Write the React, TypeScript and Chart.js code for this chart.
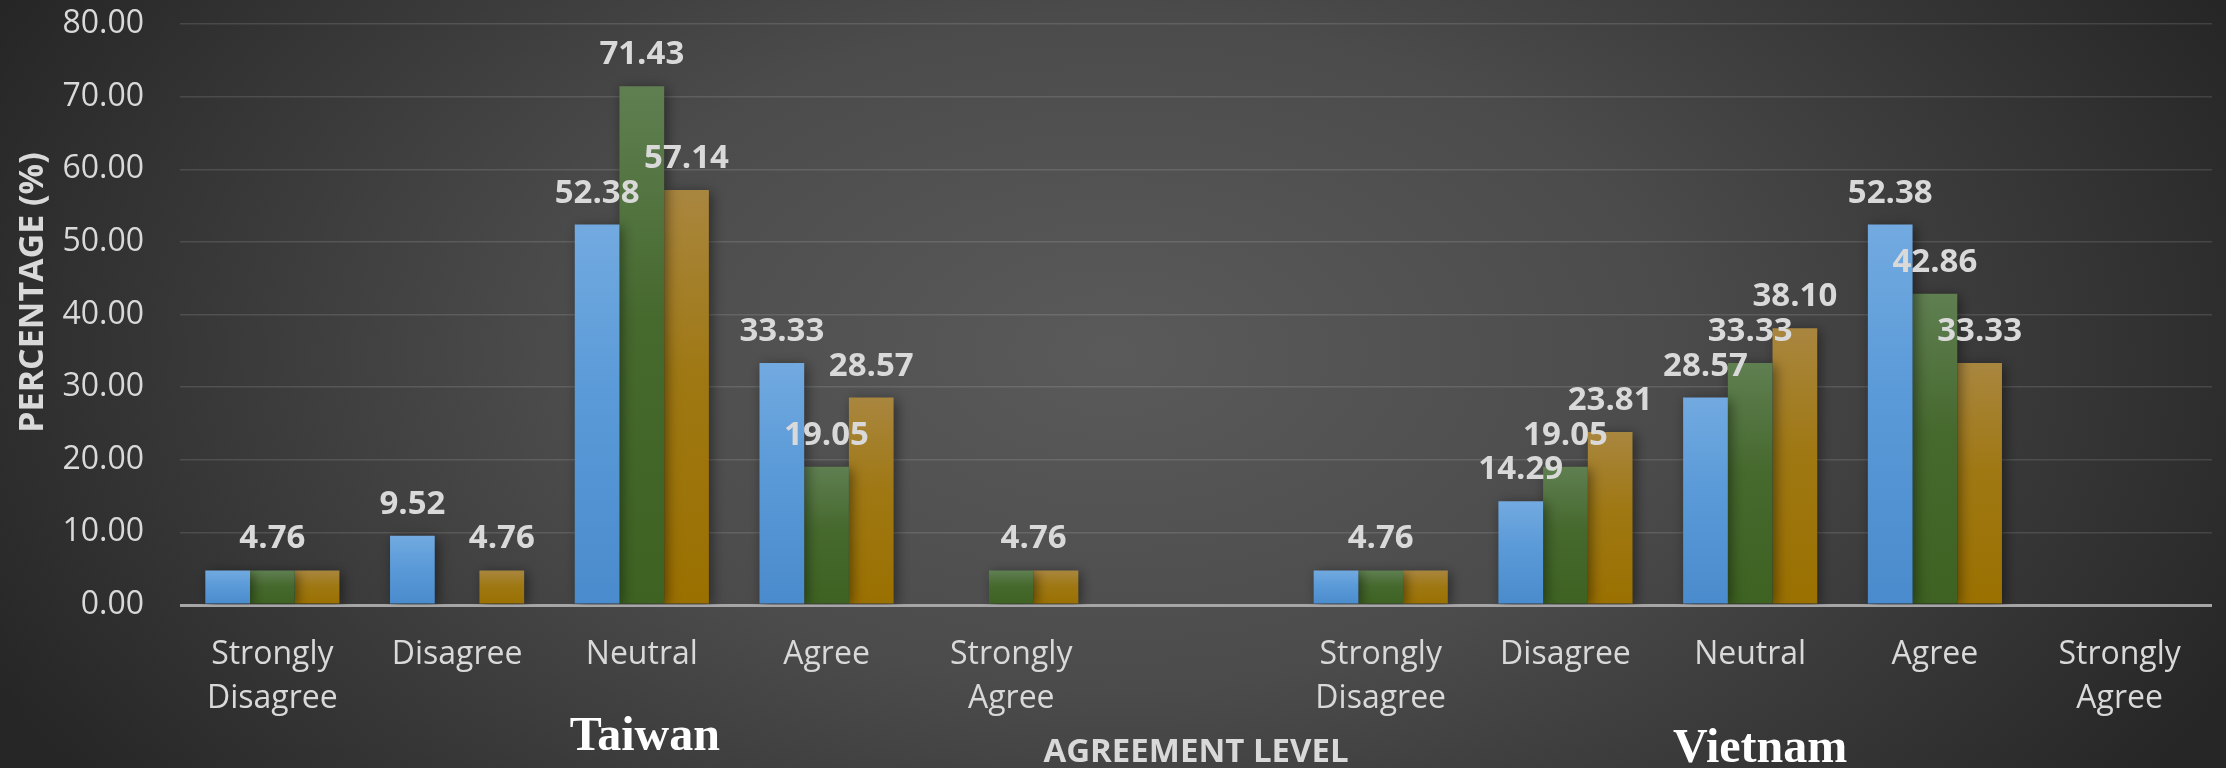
import React, { useEffect, useRef } from 'react';
import { Chart, registerables } from 'chart.js';

Chart.register(...registerables);

// ---------- data ----------
const categories: (string | string[])[] = [
  ['Strongly', 'Disagree'],
  'Disagree',
  'Neutral',
  'Agree',
  ['Strongly', 'Agree'],
  '',
  ['Strongly', 'Disagree'],
  'Disagree',
  'Neutral',
  'Agree',
  ['Strongly', 'Agree'],
];

const seriesNames = ['Series 1', 'Series 2', 'Series 3'];
const blueValues = [4.76, 9.52, 52.38, 33.33, 0, null, 4.76, 14.29, 28.57, 52.38, 0];
const greenValues = [4.76, 0, 71.43, 19.05, 4.76, null, 4.76, 19.05, 33.33, 42.86, 0];
const goldValues = [4.76, 4.76, 57.14, 28.57, 4.76, null, 4.76, 23.81, 38.1, 33.33, 0];

const yMin = 0;
const yMax = 80;
const yStep = 10;

const groupLabels = ['Taiwan', 'Vietnam'];
const groupCenterCategory = [2, 8];

const yAxisTitle = 'PERCENTAGE (%)';
const xAxisTitle = 'AGREEMENT LEVEL';

// ---------- styles ----------
const FONT = '"Open Sans", "Noto Sans", sans-serif';
const TEXT_COLOR = '#d9d9d9';
const SERIES_GRADIENTS = [
  ['#72aae0', '#5a9ad8', '#4a8bcd'],
  ['#5f7f51', '#46692e', '#3d6221'],
  ['#a9863f', '#9f7813', '#9a7000'],
];
const GROUP_LABEL_STYLE = [
  { dx: 3, dyFromBottom: 18 },
  { dx: 10, dyFromBottom: 6 },
];

function barFill(seriesIndex: number) {
  return (ctx: any) => {
    const stops = SERIES_GRADIENTS[seriesIndex];
    const chart = ctx.chart;
    const y = chart.scales && chart.scales.y;
    const v = ctx.raw;
    if (!y || ctx.type !== 'data' || v == null || v <= 0) return stops[2];
    const top = y.getPixelForValue(v);
    const bottom = y.getPixelForValue(0);
    if (!isFinite(top) || !isFinite(bottom) || bottom - top < 1) return stops[2];
    const g = chart.ctx.createLinearGradient(0, top, 0, bottom);
    g.addColorStop(0, stops[0]);
    g.addColorStop(0.45, stops[1]);
    g.addColorStop(1, stops[2]);
    return g;
  };
}

const backgroundPlugin = {
  id: 'radialBackground',
  beforeDraw(chart: any) {
    const { ctx, width, height } = chart;
    ctx.save();
    ctx.fillStyle = '#262626';
    ctx.fillRect(0, 0, width, height);
    ctx.translate(width * 0.5, height * 0.46);
    ctx.scale(1, 0.6);
    const r = width * 0.56;
    const g = ctx.createRadialGradient(0, 0, 0, 0, 0, r);
    g.addColorStop(0, '#5a5a5a');
    g.addColorStop(0.45, '#4b4b4b');
    g.addColorStop(1, '#262626');
    ctx.fillStyle = g;
    ctx.fillRect(-4000, -4000, 8000, 8000);
    ctx.restore();
  },
};

const barDecorPlugin = {
  id: 'barDecor',
  beforeDatasetsDraw(chart: any) {
    const ctx = chart.ctx;
    ctx.save();
    ctx.shadowColor = 'rgba(0,0,0,0.45)';
    ctx.shadowBlur = 12;
    ctx.shadowOffsetX = 3;
    ctx.shadowOffsetY = 2;
  },
  afterDatasetsDraw(chart: any) {
    const ctx = chart.ctx;
    ctx.restore();
    ctx.save();
    ctx.font = `bold 33px ${FONT}`;
    ctx.fillStyle = TEXT_COLOR;
    ctx.textAlign = 'center';
    ctx.textBaseline = 'alphabetic';
    const ds = chart.data.datasets;
    const metas = ds.map((_: any, i: number) => chart.getDatasetMeta(i));
    for (let c = 0; c < categories.length; c++) {
      let d = 0;
      while (d < ds.length) {
        const v = ds[d].data[c];
        if (v == null || v <= 0) {
          d++;
          continue;
        }
        let e = d;
        while (e + 1 < ds.length && ds[e + 1].data[c] === v) e++;
        const x = (metas[d].data[c].x + metas[e].data[c].x) / 2;
        const y = metas[d].data[c].y;
        ctx.fillText(Number(v).toFixed(2), x, y - 22);
        d = e + 1;
      }
    }
    ctx.restore();
  },
};

const titlesPlugin = {
  id: 'extraTitles',
  afterDraw(chart: any) {
    const { ctx, chartArea, scales, height } = chart;
    ctx.save();
    // y axis title
    ctx.font = `bold 34px ${FONT}`;
    ctx.fillStyle = TEXT_COLOR;
    ctx.textAlign = 'center';
    ctx.textBaseline = 'alphabetic';
    ctx.translate(43, (chartArea.top + chartArea.bottom) / 2 - 22);
    ctx.rotate(-Math.PI / 2);
    ctx.fillText(yAxisTitle, 0, 0);
    ctx.restore();

    ctx.save();
    ctx.font = `bold 48px "Liberation Serif", "Times New Roman", serif`;
    ctx.fillStyle = '#ffffff';
    ctx.textAlign = 'center';
    ctx.textBaseline = 'alphabetic';
    groupLabels.forEach((label, i) => {
      const st = GROUP_LABEL_STYLE[i];
      const x = scales.x.getPixelForValue(groupCenterCategory[i]) + st.dx;
      ctx.fillText(label, x, height - st.dyFromBottom);
    });
    ctx.restore();
  },
};

export default function App() {
  const canvasRef = useRef<HTMLCanvasElement | null>(null);

  useEffect(() => {
    if (!canvasRef.current) return;
    const values = [blueValues, greenValues, goldValues];
    const chart = new Chart(canvasRef.current, {
      type: 'bar',
      data: {
        labels: categories,
        datasets: values.map((vals, i) => ({
          label: seriesNames[i],
          data: vals,
          backgroundColor: barFill(i),
          borderWidth: 0,
          categoryPercentage: 0.726,
          barPercentage: 1,
        })),
      },
      options: {
        animation: false,
        responsive: false,
        devicePixelRatio: 1,
        layout: { padding: { top: 24, right: 14, left: 0, bottom: 0 } },
        plugins: {
          legend: { display: false },
          tooltip: { enabled: false },
          title: { display: false },
        },
        scales: {
          x: {
            grid: { display: false },
            border: { display: false },
            ticks: {
              color: TEXT_COLOR,
              font: { family: FONT, size: 32, lineHeight: 1.4 },
              padding: 19,
              maxRotation: 0,
              minRotation: 0,
              autoSkip: false,
            },
            title: {
              display: true,
              text: xAxisTitle,
              color: TEXT_COLOR,
              font: { family: FONT, size: 33, weight: 'bold', lineHeight: 1.2 },
              padding: { top: 0, bottom: -4 },
            },
            afterFit: (s: any) => {
              s.height = 163;
            },
          },
          y: {
            min: yMin,
            max: yMax,
            ticks: {
              stepSize: yStep,
              color: TEXT_COLOR,
              font: { family: FONT, size: 32, lineHeight: 1.2 },
              padding: 36,
              callback: (v: any) => Number(v).toFixed(2),
            },
            grid: {
              drawTicks: false,
              color: (c: any) => (c.tick && c.tick.value === 0 ? '#a6a6a6' : 'rgba(255,255,255,0.12)'),
              lineWidth: (c: any) => (c.tick && c.tick.value === 0 ? 3 : 1.5),
            },
            border: { display: false },
            afterFit: (s: any) => {
              s.width = 180;
              s.paddingTop = 0;
              s.paddingBottom = 0;
            },
          },
        },
      },
      plugins: [backgroundPlugin, barDecorPlugin, titlesPlugin],
    } as any);
    return () => {
      chart.destroy();
    };
  }, []);

  return (
    <div style={{ position: 'fixed', left: 0, top: 0, width: 2226, height: 768 }}>
      <canvas ref={canvasRef} width={2226} height={768} style={{ display: 'block' }} />
    </div>
  );
}
